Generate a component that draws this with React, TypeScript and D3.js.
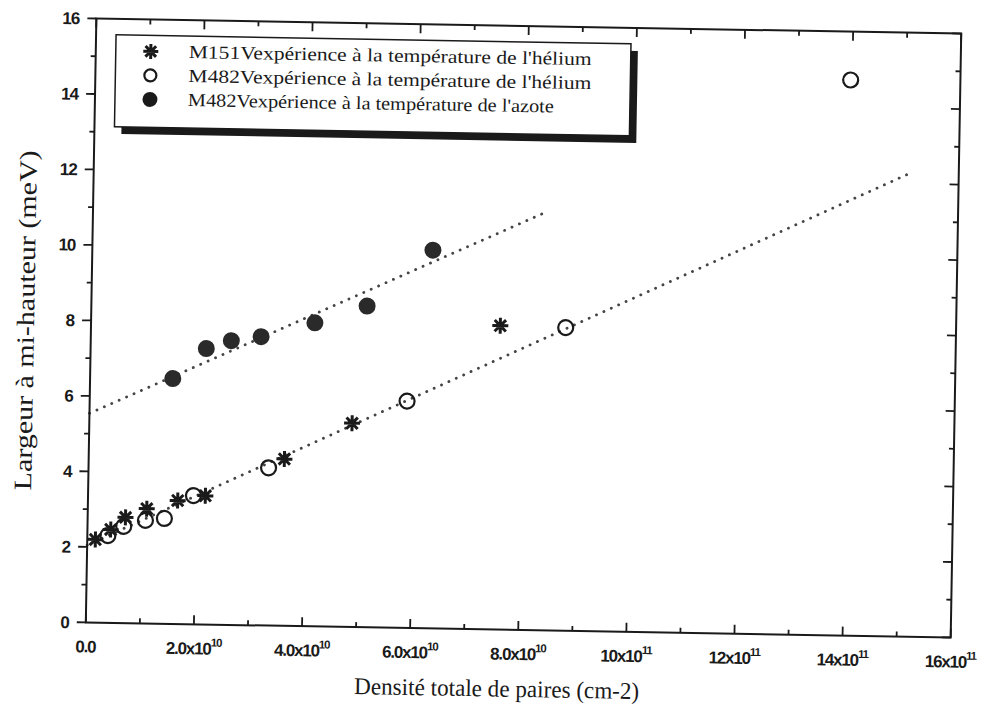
import React from "react";
import * as d3 from "d3";

// x in units of 1e10 cm-2, y in meV
const starX = [0.15, 0.43, 0.7, 1.09, 1.66, 2.17, 3.62, 4.86, 7.57];
const starY = [2.2, 2.47, 2.8, 3.04, 3.27, 3.41, 4.42, 5.4, 8.05];

const openX = [0.38, 0.67, 1.07, 1.42, 1.95, 3.33, 5.87, 8.78, 13.97];
const openY = [2.31, 2.56, 2.73, 2.79, 3.41, 4.18, 6.01, 8.03, 14.72];

const filledX = [1.53, 2.14, 2.6, 3.15, 4.14, 5.1, 6.3];
const filledY = [6.5, 7.31, 7.53, 7.65, 8.04, 8.51, 10.02];

const fitHeliumX = [0, 15.13];
const fitHeliumY = [2.05, 12.3];
const fitAzoteX = [0, 8.32];
const fitAzoteY = [5.54, 11.04];

const xTicks = [0, 2, 4, 6, 8, 10, 12, 14, 16];
const xTickBase = ["0.0", "2.0x10", "4.0x10", "6.0x10", "8.0x10", "10x10", "12x10", "14x10", "16x10"];
const xTickExp = ["", "10", "10", "10", "10", "11", "11", "11", "11"];
const yTicks = [0, 2, 4, 6, 8, 10, 12, 14, 16];

const legendLabels = [
  "M151Vexpérience à la température de l'hélium",
  "M482Vexpérience à la température de l'hélium",
  "M482Vexpérience à la température de l'azote",
];

const L = 91, R = 956, T = 26, B = 630;

function Star({ cx, cy, r = 8 }: { cx: number; cy: number; r?: number }) {
  const d = [0, 45, 90, 135]
    .map((a) => {
      const rad = (a * Math.PI) / 180;
      const dx = Math.cos(rad) * r, dy = Math.sin(rad) * r;
      return `M${cx - dx},${cy - dy}L${cx + dx},${cy + dy}`;
    })
    .join("");
  return <path d={d} stroke="#1a1a1a" strokeWidth={3} fill="none" />;
}

const serif = "Liberation Serif, Tinos, Times New Roman, serif";
const sans = "Liberation Sans, Arimo, Arial, sans-serif";

export default function App() {
  const x = d3.scaleLinear().domain([0, 16]).range([L, R]);
  const y = d3.scaleLinear().domain([0, 16]).range([B, T]);
  const line = d3.line<[number, number]>().x((d) => x(d[0])).y((d) => y(d[1]));
  const minorX = d3.range(0, 17, 1);
  const minorY = d3.range(0, 17, 1);
  const heliumPts: [number, number][] = fitHeliumX.map((v, i) => [v, fitHeliumY[i]]);
  const azotePts: [number, number][] = fitAzoteX.map((v, i) => [v, fitAzoteY[i]]);

  return (
    <svg width={987} height={713} style={{ position: "absolute", left: 0, top: 0, background: "#fff" }}>
      <rect x={0} y={0} width={987} height={713} fill="#fff" />
      <g transform="rotate(1, 523.5, 329)">
        {/* fit lines */}
        <path d={line(heliumPts) || ""} stroke="#444" strokeWidth={2.8} strokeDasharray="0.1 8" strokeLinecap="round" fill="none" />
        <path d={line(azotePts) || ""} stroke="#444" strokeWidth={2.8} strokeDasharray="0.1 8" strokeLinecap="round" fill="none" />

        {/* frame */}
        <rect x={L} y={T} width={R - L} height={B - T} fill="none" stroke="#1a1a1a" strokeWidth={2} />

        {minorX.map((v) => {
          const major = v % 2 === 0;
          const len = major ? 9 : 5;
          return (
            <g key={"xt" + v}>
              <line x1={x(v)} x2={x(v)} y1={B} y2={B - len} stroke="#1a1a1a" strokeWidth={1.8} />
              <line x1={x(v)} x2={x(v)} y1={T} y2={T + len} stroke="#1a1a1a" strokeWidth={1.8} />
            </g>
          );
        })}
        {minorY.map((v) => {
          const major = v % 2 === 0;
          const len = major ? 9 : 5;
          return (
            <g key={"yt" + v}>
              <line x1={L} x2={L - len} y1={y(v)} y2={y(v)} stroke="#1a1a1a" strokeWidth={1.8} />
              <line x1={R} x2={R - len} y1={y(v)} y2={y(v)} stroke="#1a1a1a" strokeWidth={1.8} />
            </g>
          );
        })}

        {xTicks.map((v, i) => (
          <text key={"xl" + v} x={x(v)} y={B + 30} textAnchor="middle" style={{ fontFamily: sans }} fontSize={17} fontWeight="bold" letterSpacing={-1.2} fill="#1a1a1a">
            {xTickBase[i]}
            {xTickExp[i] && (
              <tspan fontSize={11.5} dy={-8}>
                {xTickExp[i]}
              </tspan>
            )}
          </text>
        ))}
        {yTicks.map((v) => (
          <text key={"yl" + v} x={L - 17} y={y(v) + 6} textAnchor="end" style={{ fontFamily: sans }} fontSize={17} fontWeight="bold" letterSpacing={-1} fill="#1a1a1a">
            {v}
          </text>
        ))}

        <text x={503} y={697} textAnchor="middle" style={{ fontFamily: serif }} fontSize={24} textLength={285} lengthAdjust="spacingAndGlyphs" fill="#1a1a1a">
          Densité totale de paires (cm-2)
        </text>
        <text transform="translate(34, 329) rotate(-90)" textAnchor="middle" style={{ fontFamily: serif }} fontSize={25} textLength={340} lengthAdjust="spacingAndGlyphs" fill="#1a1a1a">
          Largeur à mi-hauteur (meV)
        </text>

        {openX.map((v, i) => (
          <circle key={"o" + i} cx={x(v)} cy={y(openY[i])} r={7.5} fill="none" stroke="#1a1a1a" strokeWidth={2.2} />
        ))}
        {starX.map((v, i) => (
          <Star key={"s" + i} cx={x(v)} cy={y(starY[i])} />
        ))}
        {filledX.map((v, i) => (
          <circle key={"f" + i} cx={x(v)} cy={y(filledY[i])} r={8.5} fill="#2a2a2a" />
        ))}

        {/* legend */}
        <rect x={118} y={49} width={515} height={92} fill="#1a1a1a" />
        <rect x={111} y={42} width={515} height={92} fill="#fff" stroke="#1a1a1a" strokeWidth={1.5} />
        <Star cx={146} cy={58} r={7.5} />
        <circle cx={146} cy={82} r={6} fill="none" stroke="#1a1a1a" strokeWidth={2.2} />
        <circle cx={146} cy={106} r={7.5} fill="#1a1a1a" />
        {legendLabels.map((t, i) => (
          <text key={"lg" + i} x={184} y={64 + i * 24} style={{ fontFamily: serif }} fontSize={18.5} textLength={i === 2 ? 366 : 403} lengthAdjust="spacingAndGlyphs" fill="#1a1a1a">
            {t}
          </text>
        ))}
      </g>
    </svg>
  );
}
